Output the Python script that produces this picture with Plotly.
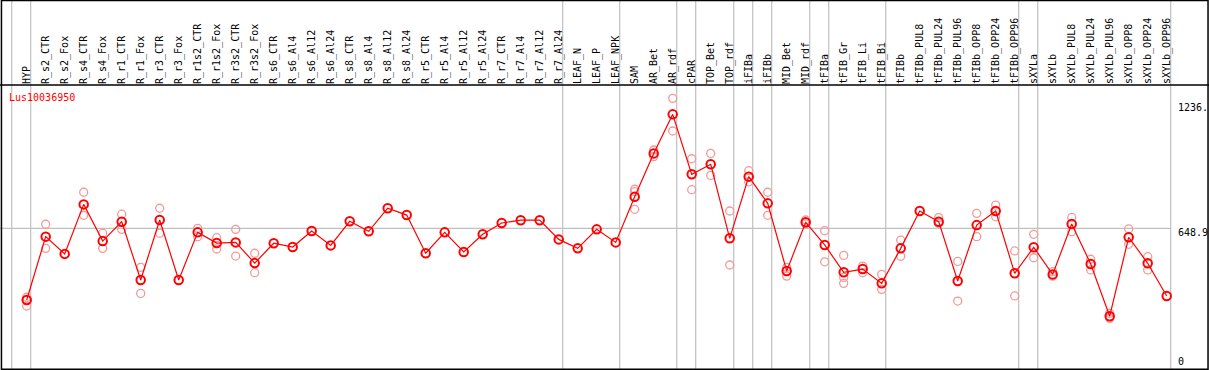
import plotly.graph_objects as go

labels = ["HYP", "R_s2_CTR", "R_s2_Fox", "R_s4_CTR", "R_s4_Fox", "R_r1_CTR", "R_r1_Fox",
          "R_r3_CTR", "R_r3_Fox", "R_r1s2_CTR", "R_r1s2_Fox", "R_r3s2_CTR", "R_r3s2_Fox",
          "R_s6_CTR", "R_s6_Al4", "R_s6_Al12", "R_s6_Al24", "R_s8_CTR", "R_s8_Al4", "R_s8_Al12",
          "R_s8_Al24", "R_r5_CTR", "R_r5_Al4", "R_r5_Al12", "R_r5_Al24", "R_r7_CTR", "R_r7_Al4",
          "R_r7_Al12", "R_r7_Al24", "LEAF_N", "LEAF_P", "LEAF_NPK", "SAM", "AR_Bet", "AR_rdf",
          "cPAR", "TOP_Bet", "TOP_rdf", "iFIBa", "iFIBb", "MID_Bet", "MID_rdf", "tFIBa",
          "tFIB_Gr", "tFIB_Li", "tFIB_Bi", "tFIBb", "tFIBb_PUL8", "tFIBb_PUL24", "tFIBb_PUL96",
          "tFIBb_OPP8", "tFIBb_OPP24", "tFIBb_OPP96", "sXYLa", "sXYLb", "sXYLb_PUL8",
          "sXYLb_PUL24", "sXYLb_PUL96", "sXYLb_OPP8", "sXYLb_OPP24", "sXYLb_OPP96"]

means = [313, 610, 529, 761, 589, 680, 407, 688, 407, 630, 580, 583, 486,
         579, 561, 636, 569, 682, 635, 743, 711, 532, 630, 538, 621, 674, 687,
         687, 597, 555, 644, 583, 797, 1000, 1183, 902, 949, 602, 891, 766, 449,
         677, 571, 443, 458, 391, 555, 730, 680, 402, 664, 730, 438, 560, 433,
         669, 482, 237, 607, 485, 332]

replicates = [[326, 313, 285], [668, 555], [], [818, 710], [626, 555], [715, 644], [466, 344],
              [743, 626], [], [649, 610], [605, 552], [644, 519], [532, 441],
              [], [], [], [], [], [], [], [], [], [], [], [], [], [], [], [], [], [], [],
              [832, 821, 738], [1016, 985], [1258, 1105], [975, 830], [1000, 897], [730, 477],
              [919, 867], [818, 710], [466, 425], [688, 670], [638, 492],
              [522, 419, 391], [472, 441], [433, 363], [594, 518], [], [699, 672], [494, 308],
              [719, 610], [758, 703], [543, 332], [621, 511], [446, 425], [700, 633],
              [504, 454], [251, 227], [646, 574], [516, 454], []]

group_ends = [-1, 0, 28, 31, 34, 35, 37, 38, 39, 41, 42, 45, 52, 53, 60]

y_ticks = [1236, 648.9, 0]
y_tick_text = ["1236.", "648.9", "0"]
gene = "Lus10036950"

W, H = 1209, 370
PX = 19.0           # pixels per category
X0PX = 26.7         # pixel of first category
xr = [(0 - X0PX) / PX, (W - X0PX) / PX]
top_px, bot_px = 85, 369
y_dom = [1 - bot_px / H, 1 - top_px / H]
slope = 0.2134
zero_px = 366.8
yr = [(zero_px - bot_px) / slope, (zero_px - top_px) / slope]
off = 4 / PX

idx = list(range(len(labels)))
rx, ry = [], []
for i, reps in enumerate(replicates):
    for v in reps:
        rx.append(i)
        ry.append(v)

fig = go.Figure()
fig.add_trace(go.Scatter(
    x=rx, y=ry, mode="markers",
    marker=dict(symbol="circle-open", size=8, color="#f09a9a", line=dict(width=1.3, color="#f09a9a")),
    hoverinfo="skip", showlegend=False, cliponaxis=False))
fig.add_trace(go.Scatter(
    x=idx, y=means, mode="lines+markers",
    line=dict(color="#ff0000", width=1.2),
    marker=dict(symbol="circle-open", size=8.5, color="#ff0000", line=dict(width=2, color="#ff0000")),
    showlegend=False, cliponaxis=False, text=labels, hovertemplate="%{text}: %{y}<extra></extra>"))

shapes = []
for g in group_ends:
    shapes.append(dict(type="line", xref="x", yref="paper", x0=g + off, x1=g + off, y0=0, y1=1,
                       line=dict(color="#c0c0c0", width=1.2), layer="below"))
shapes.append(dict(type="line", xref="x", yref="y", x0=xr[0], x1=60 + off, y0=y_ticks[1], y1=y_ticks[1],
                   line=dict(color="#c0c0c0", width=1.2), layer="below"))
shapes.append(dict(type="line", xref="paper", yref="paper", x0=0, x1=1, y0=y_dom[1], y1=y_dom[1],
                   line=dict(color="black", width=1.5)))
shapes.append(dict(type="rect", xref="paper", yref="paper", x0=0.0012, x1=0.9992, y0=0.002, y1=0.9985,
                   line=dict(color="black", width=1.5)))

annotations = []
shifts = [-4, -4, 5]
for v, t, s in zip(y_ticks, y_tick_text, shifts):
    annotations.append(dict(x=1176 / W, xref="paper", y=v, yref="y", yshift=s, text=t, showarrow=False,
                            xanchor="left", yanchor="middle",
                            font=dict(family="DejaVu Sans Mono", size=10, color="black")))
annotations.append(dict(x=7 / W, xref="paper", y=1 - 97 / H, yref="paper", text=gene, showarrow=False,
                        xanchor="left", yanchor="middle",
                        font=dict(family="DejaVu Sans Mono", size=10, color="#ff0000")))

fig.update_layout(
    width=W, height=H, margin=dict(l=0, r=0, t=0, b=0),
    paper_bgcolor="white", plot_bgcolor="white",
    shapes=shapes, annotations=annotations,
    xaxis=dict(range=xr, side="top", tickangle=-90, showgrid=False, zeroline=False,
               tickmode="array", tickvals=idx, ticktext=labels,
               showline=False, ticks="", tickfont=dict(family="DejaVu Sans Mono", size=10, color="black"),
               domain=[0, 1]),
    yaxis=dict(range=yr, domain=y_dom, showgrid=False, zeroline=False, showticklabels=False,
               showline=False, ticks=""),
)
fig.write_html("out.html", config={"displayModeBar": False},
               post_script="document.body.style.margin='0';")
